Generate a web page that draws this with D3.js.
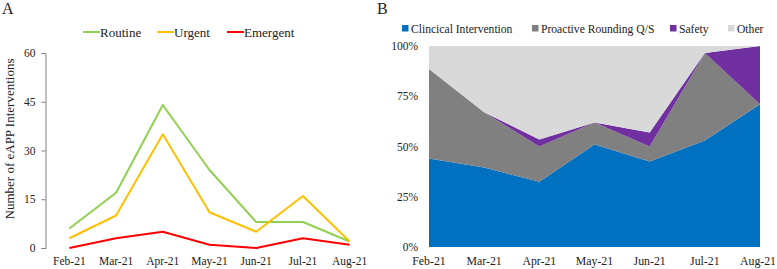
<!DOCTYPE html>
<html>
<head>
<meta charset="utf-8">
<script src="https://cdn.jsdelivr.net/npm/d3@7"></script>
<style>
  html, body { margin: 0; padding: 0; background: #fff; }
  svg text { font-family: "Liberation Serif", "Times New Roman", Times, serif; }
</style>
</head>
<body>
<div id="chart"></div>
<script>
// Months shared by both panels
const months = ["Feb-21", "Mar-21", "Apr-21", "May-21", "Jun-21", "Jul-21", "Aug-21"];

// Panel A: counts of eAPP interventions by priority
const routine = [6, 17, 44, 24, 8, 8, 2];
const urgent = [3, 10, 35, 11, 5, 16, 2];
const emergent = [0, 3, 5, 1, 0, 3, 1];
const countTicks = [0, 15, 30, 45, 60];

// Panel B: share of intervention types (%)
const clinical = [44, 39.5, 32.5, 51, 42.5, 53, 71];
const proactive = [44.5, 27.5, 17.5, 11, 7.5, 43.5, 0];
const safety = [0, 0, 3.5, 0, 7, 0, 29];
const other = [11.5, 33, 46.5, 38, 43, 3.5, 0];
const pctTicks = [0, 25, 50, 75, 100];

const FONT = "Liberation Serif";
const INK = "#222";
const W = 777, H = 269;
const svg = d3.select("#chart").append("svg")
  .attr("width", W).attr("height", H)
  .attr("viewBox", `0 0 ${W} ${H}`)
  .attr("font-family", FONT);

// ---------- Panel A ----------
const lineSeries = [
  { name: "Routine", values: routine, color: "#92d050" },
  { name: "Urgent", values: urgent, color: "#ffc000" },
  { name: "Emergent", values: emergent, color: "#ff0000" },
];

svg.append("text").attr("x", 2).attr("y", 14)
  .attr("font-size", 16).attr("fill", INK).text("A");

const xA = d3.scaleBand().domain(months).range([46, 373]);
const yA = d3.scaleLinear().domain([0, 60]).range([248, 53]);

const axA = svg.append("g").attr("transform", "translate(45.5,0)")
  .call(d3.axisLeft(yA).tickValues(countTicks).tickSize(4).tickPadding(6))
  .attr("font-family", FONT).attr("font-size", 11.5);
axA.select(".domain").attr("stroke", "#808080");
axA.selectAll(".tick line").attr("stroke", "#808080");
axA.selectAll(".tick text").attr("fill", INK);

svg.append("g").selectAll("text").data(months).join("text")
  .attr("x", d => xA(d) + xA.bandwidth() / 2).attr("y", 265)
  .attr("text-anchor", "middle").attr("font-size", 11.5).attr("fill", INK)
  .text(d => d);

svg.append("text")
  .attr("transform", "translate(14,139) rotate(-90)")
  .attr("text-anchor", "middle").attr("font-size", 13).attr("fill", INK)
  .text("Number of eAPP Interventions");

const line = d3.line()
  .x((d, i) => xA(months[i]) + xA.bandwidth() / 2)
  .y(d => yA(d));

svg.append("g").selectAll("path").data(lineSeries).join("path")
  .attr("fill", "none").attr("stroke", d => d.color).attr("stroke-width", 2)
  .attr("stroke-linejoin", "round")
  .attr("d", d => line(d.values));

const legA = svg.append("g").selectAll("g").data(lineSeries).join("g")
  .attr("transform", (d, i) => `translate(${[83, 157, 227][i]},32)`);
legA.append("line").attr("x1", 0).attr("x2", 17)
  .attr("stroke", d => d.color).attr("stroke-width", 2);
legA.append("text").attr("x", 17).attr("y", 4.5).attr("font-size", 13)
  .attr("fill", INK).text(d => d.name);

// ---------- Panel B ----------
svg.append("text").attr("x", 377).attr("y", 14)
  .attr("font-size", 16).attr("fill", INK).text("B");

const areaSeries = [
  { key: "Clinical Intervention", label: "Clincical Intervention", values: clinical, color: "#0070c0" },
  { key: "Proactive Rounding Q/S", label: "Proactive Rounding Q/S", values: proactive, color: "#808080" },
  { key: "Safety", label: "Safety", values: safety, color: "#7030a0" },
  { key: "Other", label: "Other", values: other, color: "#d9d9d9" },
];
const rows = months.map((m, i) => {
  const r = { month: m };
  areaSeries.forEach(s => { r[s.key] = s.values[i]; });
  return r;
});
const stacked = d3.stack().keys(areaSeries.map(s => s.key))(rows);

const xB = d3.scalePoint().domain(months).range([429, 760]);
const yB = d3.scaleLinear().domain([0, 100]).range([247, 46]);

const area = d3.area()
  .x(d => xB(d.data.month))
  .y0(d => yB(d[0])).y1(d => yB(d[1]));

svg.append("g").selectAll("path").data(stacked).join("path")
  .attr("fill", (d, i) => areaSeries[i].color)
  .attr("d", area);

svg.append("g").selectAll("text").data(pctTicks).join("text")
  .attr("x", 418).attr("y", d => yB(d) + 4)
  .attr("text-anchor", "end").attr("font-size", 11.5).attr("fill", INK)
  .text(d => d + "%");

svg.append("g").selectAll("text").data(months).join("text")
  .attr("x", d => Math.min(xB(d), 758)).attr("y", 265)
  .attr("text-anchor", "middle").attr("font-size", 11.8).attr("fill", INK)
  .text(d => d);

const legB = svg.append("g").selectAll("g").data(areaSeries).join("g")
  .attr("transform", (d, i) => `translate(${[402, 532, 670, 728][i]},25)`);
legB.append("rect").attr("width", 6.5).attr("height", 6.5)
  .attr("fill", d => d.color);
legB.append("text").attr("x", 9).attr("y", 7.5).attr("font-size", 11.6)
  .attr("fill", INK).text(d => d.label);
</script>
</body>
</html>
